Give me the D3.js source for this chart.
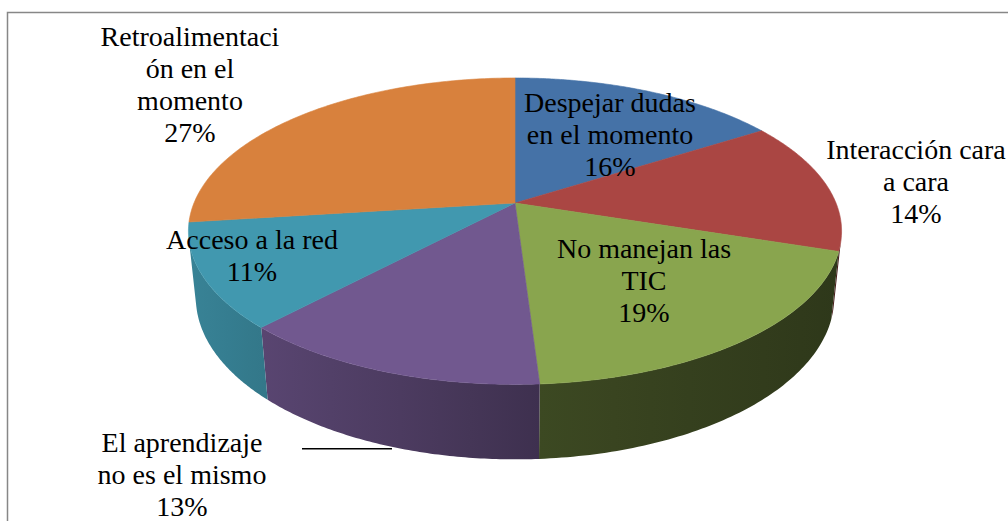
<!DOCTYPE html>
<html>
<head>
<meta charset="utf-8">
<script src="https://cdn.jsdelivr.net/npm/d3@7"></script>
<style>
  html, body { margin: 0; padding: 0; background: #fff; }
  svg { display: block; }
  .lab { font-family: "Liberation Serif", "DejaVu Serif", "Times New Roman", serif; }
</style>
</head>
<body>
<script>
// 3D pie (Excel style) drawn with d3.pie + a small perspective projection.

const categories = [
  "Despejar dudas en el momento",
  "Interacción cara a cara",
  "No manejan las TIC",
  "El aprendizaje no es el mismo",
  "Acceso a la red",
  "Retroalimentación en el momento"
];
const values = [16, 14, 19, 13, 11, 27];
// label text as it wraps in the chart
const labelLines = [
  ["Despejar dudas", "en el momento"],
  ["Interacción cara", "a cara"],
  ["No manejan las", "TIC"],
  ["El aprendizaje", "no es el mismo"],
  ["Acceso a la red"],
  ["Retroalimentaci", "ón en el", "momento"]
];

// layout / style (not data)
const colors = ["#4572A7", "#AA4643", "#89A54E", "#71588F", "#4198AF", "#D8813D"];
const labelAnchors = [[610, 112], [916, 159], [644, 258], [182, 452], [252, 249], [190, 46]];

const width = 1008, height = 521;
const cx = 515, cy = 203;      // apex of the pie on screen
const S = 321;                 // screen radius at depth of centre
const elev = 27.46 * Math.PI / 180;
const sinE = Math.sin(elev), cosE = Math.cos(elev);
const Dp = 4.823;              // camera distance in radii
const H = 0.235;               // thickness in radii

function project(a, h) {
  const u = Math.sin(a), v = -Math.cos(a);
  const depth = 1 - (v * cosE + h * sinE) / Dp;
  return [cx + S * u / depth, cy - S * (h * cosE - v * sinE) / depth];
}
function centre(h) {
  const depth = 1 - (h * sinE) / Dp;
  return [cx, cy - S * h * cosE / depth];
}

// walls face the camera where cos(a) < -1/(Dp*cosE)
const aLim = Math.acos(-1 / (Dp * cosE));
const wallMin = aLim, wallMax = 2 * Math.PI - aLim;

const svg = d3.select("body").append("svg")
  .attr("width", width)
  .attr("height", height);

const defs = svg.append("defs");

// chart border (runs off the right and bottom edge)
svg.append("rect")
  .attr("x", 7.5).attr("y", 12.5)
  .attr("width", 1200).attr("height", 700)
  .attr("fill", "none")
  .attr("stroke", "#878787")
  .attr("stroke-width", 1.5);

const arcs = d3.pie().sort(null)(values);

function rim(a1, a2, h, n) {
  const pts = [];
  for (let i = 0; i <= n; i++) pts.push(project(a1 + (a2 - a1) * i / n, h));
  return pts;
}
const line = d3.line();

// side shading runs dark to the right
const shade = d3.scaleLinear().domain([188, 270, 540, 842]).range([0.86, 0.78, 0.55, 0.42]).clamp(true);
function scaleColor(c, f) {
  const r = d3.rgb(c);
  return d3.rgb(r.r * f, r.g * f, r.b * f).formatHex();
}

const gWalls = svg.append("g");
arcs.forEach((d, i) => {
  const a1 = Math.max(d.startAngle, wallMin), a2 = Math.min(d.endAngle, wallMax);
  if (a2 <= a1) return;
  const top = rim(a1, a2, 0, 80);
  const bot = rim(a1, a2, -H, 80).reverse();
  const xs = top.concat(bot).map(p => p[0]);
  const x0 = d3.min(xs), x1 = d3.max(xs);
  const grad = defs.append("linearGradient")
    .attr("id", "wall" + i)
    .attr("gradientUnits", "userSpaceOnUse")
    .attr("x1", x0).attr("x2", x1).attr("y1", 0).attr("y2", 0);
  d3.range(0, 1.0001, 0.25).forEach(t => {
    const x = x0 + (x1 - x0) * t;
    grad.append("stop").attr("offset", t).attr("stop-color", scaleColor(colors[i], shade(x) * (i === 2 ? 0.8 : 1)));
  });
  gWalls.append("path")
    .attr("d", line(top.concat(bot)) + "Z")
    .attr("fill", `url(#wall${i})`);
});

const gTop = svg.append("g");
arcs.forEach((d, i) => {
  const pts = [centre(0)].concat(rim(d.startAngle, d.endAngle, 0, 120));
  gTop.append("path")
    .attr("d", line(pts) + "Z")
    .attr("fill", colors[i])
    .attr("stroke", colors[i])
    .attr("stroke-width", 0.6);
});

// leader line for the purple slice
const pd = arcs[3];
const lp = project((pd.startAngle + pd.endAngle) / 2, -H);
svg.append("line")
  .attr("x1", 302).attr("y1", lp[1] + 3)
  .attr("x2", lp[0] + 5).attr("y2", lp[1] + 3)
  .attr("stroke", "#000")
  .attr("stroke-width", 1.6);

// labels
const gLab = svg.append("g")
  .attr("class", "lab")
  .attr("font-size", 28)
  .attr("fill", "#000")
  .attr("text-anchor", "middle");

arcs.forEach((d, i) => {
  const [lx, ly] = labelAnchors[i];
  const lines = labelLines[i].concat([values[i] + "%"]);
  const t = gLab.append("text").attr("x", lx).attr("y", ly);
  lines.forEach((s, j) => {
    t.append("tspan").attr("x", lx).attr("dy", j === 0 ? 0 : 32).text(s);
  });
});
</script>
</body>
</html>
